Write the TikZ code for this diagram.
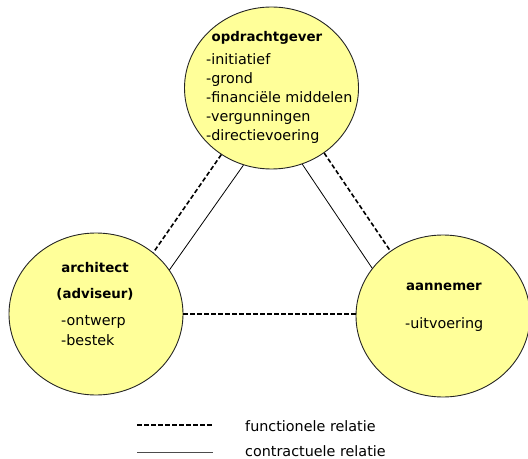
\documentclass[tikz,border=0pt]{standalone}
\usepackage{fontspec}
\setmainfont{DejaVu Sans}
\usetikzlibrary{shapes.geometric}
\definecolor{bubble}{HTML}{FFFF99}
\tikzset{
  party/.style={ellipse, draw=black!85, line width=0.9bp, fill=bubble,
    minimum width=174bp, minimum height=162bp, inner sep=0pt},
  head/.style={anchor=base, inner sep=0pt, font=\fontsize{13.4}{15}\selectfont\bfseries},
  item/.style={anchor=base west, inner sep=0pt, font=\fontsize{14.4}{16}\selectfont},
  legtext/.style={anchor=base west, inner sep=0pt, font=\fontsize{14.4}{16}\selectfont},
  func/.style={line width=1.6bp, dash pattern=on 4.5bp off 2.5bp},
  contr/.style={line width=0.8bp},
}
\begin{document}
\begin{tikzpicture}[x=1bp,y=-1bp]
\useasboundingbox (0,0) rectangle (528,459);
% parties
\node[party] (top) at (271.5,88) {};
\node[party] (left) at (96,314) {};
\node[party] (right) at (443,316) {};
% connectors
\draw[func] (top.233.5) -- (left.47.4);
\draw[contr] (top.250) -- (left.31);
\draw[contr] (top.292.8) -- (right.146);
\draw[func] (top.309.6) -- (right.129.5);
\draw[func] (left.east) -- (right.west |- left.east);
% texts top
\node[head] (t0) at (267,42) {opdrachtgever};
\node[item] (t1) at (206,65) {-initiatief};
\node[item] (t2) at (206,84) {-grond};
\node[item] (t3) at (206,103) {-financiële middelen};
\node[item] (t4) at (206,122) {-vergunningen};
\node[item] (t5) at (206,141) {-directievoering};
% texts left
\node[head] (l0) at (95,272) {architect};
\node[head] (l1) at (95,298) {(adviseur)};
\node[item] (l2) at (61,325) {-ontwerp};
\node[item] (l3) at (61,345) {-bestek};
% texts right
\node[head] (r0) at (444,290) {aannemer};
\node[item] (r1) at (405,328) {-uitvoering};
% legend
\coordinate (fa) at (137,425);
\coordinate (fb) at (212,425);
\coordinate (ca) at (137,452);
\coordinate (cb) at (213,452);
\draw[func] (fa) -- (fb);
\draw[contr, black!70, line width=1bp] (ca) -- (cb);
\node[legtext] (lf) at (245,431) {functionele relatie};
\node[legtext] (lc) at (245,456) {contractuele relatie};
\end{tikzpicture}
\end{document}
